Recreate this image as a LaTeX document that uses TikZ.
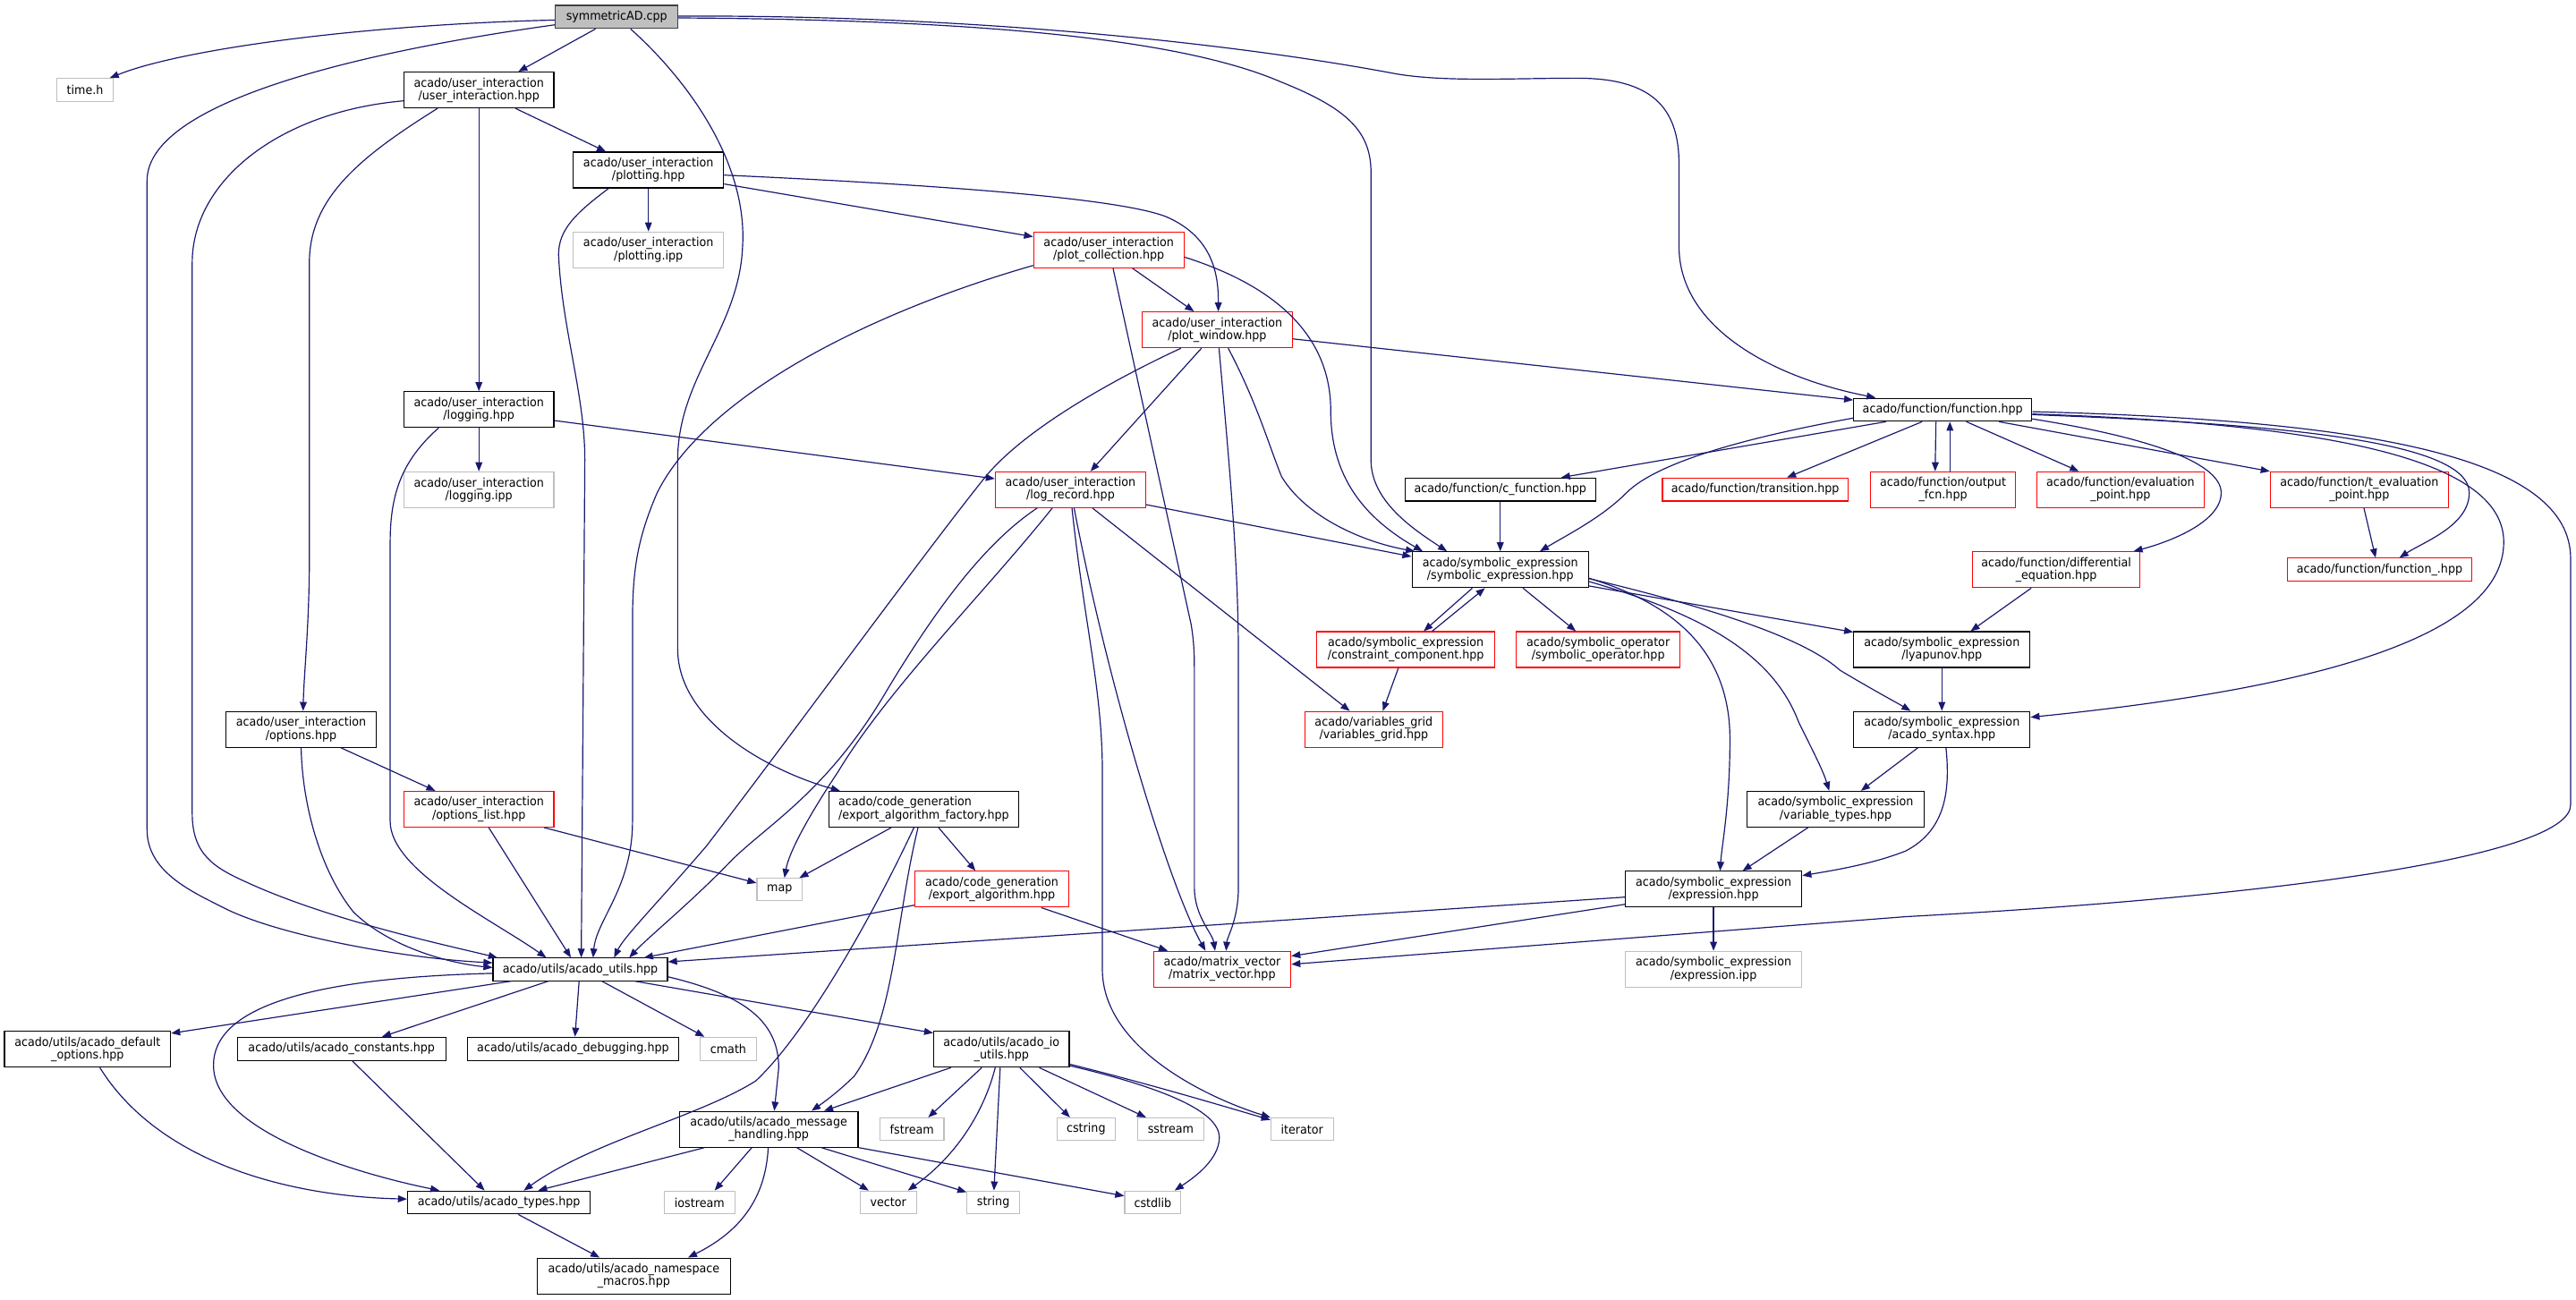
\documentclass[tikz,border=0pt]{standalone}
\usepackage{fontspec}
\newfontfamily\gfont[FakeStretch=0.935]{DejaVu Sans}
\usetikzlibrary{arrows.meta}
\definecolor{edgeblue}{HTML}{191970}
\definecolor{extgray}{HTML}{BFBFBF}
\definecolor{maingray}{HTML}{BFBFBF}
\definecolor{mainborder}{HTML}{404040}
\definecolor{incred}{HTML}{FF0000}
\tikzset{
  box/.style={rectangle, inner sep=0pt, align=center, line width=0.6pt, font=\gfont\fontsize{7.4}{7.7}\selectfont},
  doc/.style={box, draw=black},
  inc/.style={box, draw=incred},
  ext/.style={box, draw=extgray},
  mainn/.style={box, draw=mainborder, fill=maingray},
  sz/.style 2 args={minimum width=#1pt, minimum height=#2pt},
  arr/.style={draw=edgeblue, line width=0.65pt, -{Triangle[length=5.5pt,width=4.2pt]}},
}
\begin{document}
\begin{tikzpicture}[x=1pt,y=-1pt]
\useasboundingbox (0,0) rectangle (1568,791);
% ---------------- nodes ----------------
\node[mainn, sz={74.5}{14}] (S) at (375.4,10.3) {symmetricAD.cpp};
\node[ext, sz={34}{14}] (timeh) at (51.8,54.8) {time.h};
\node[doc, sz={91.3}{21.8}] (ui) at (291.5,54.8) {acado/user\_interaction\\/user\_interaction.hpp};
\node[doc, sz={91.6}{21.8}] (plotting) at (394.7,103.5) {acado/user\_interaction\\/plotting.hpp};
\node[ext, sz={91.6}{21.8}] (plottingipp) at (394.7,152.1) {acado/user\_interaction\\/plotting.ipp};
\node[doc, sz={91.3}{21.8}] (logging) at (291.5,249.3) {acado/user\_interaction\\/logging.hpp};
\node[ext, sz={91.3}{21.8}] (loggingipp) at (291.5,298.1) {acado/user\_interaction\\/logging.ipp};
\node[doc, sz={91.6}{21.8}] (options) at (183.3,444) {acado/user\_interaction\\/options.hpp};
\node[inc, sz={91.3}{21.8}] (optlist) at (291.5,492.6) {acado/user\_interaction\\/options\_list.hpp};
\node[inc, sz={91.5}{21.8}] (plotcoll) at (674.9,152.1) {acado/user\_interaction\\/plot\_collection.hpp};
\node[inc, sz={91.6}{21.8}] (plotwin) at (740.9,200.8) {acado/user\_interaction\\/plot\_window.hpp};
\node[doc, sz={108.4}{14}] (func) at (1182.5,249.4) {acado/function/function.hpp};
\node[inc, sz={91.5}{21.8}] (logrec) at (651.6,298.1) {acado/user\_interaction\\/log\_record.hpp};
\node[doc, sz={115.5}{21.8}, align=left] (eaf) at (562.3,492.6) {acado/code\_generation\\/export\_algorithm\_factory.hpp};
\node[inc, sz={93.8}{21.8}] (ea) at (603.7,541.3) {acado/code\_generation\\/export\_algorithm.hpp};
\node[doc, sz={116.2}{14}] (cfunc) at (913.2,298) {acado/function/c\_function.hpp};
\node[inc, sz={113}{14}] (trans) at (1068.4,298) {acado/function/transition.hpp};
\node[inc, sz={88.5}{21.8}] (outfcn) at (1182.7,298.1) {acado/function/output\\\_fcn.hpp};
\node[inc, sz={101.8}{21.8}] (evalpt) at (1290.7,298.1) {acado/function/evaluation\\\_point.hpp};
\node[inc, sz={108.4}{21.8}] (tevalpt) at (1436.1,298.1) {acado/function/t\_evaluation\\\_point.hpp};
\node[inc, sz={112.3}{14}] (funcu) at (1448.4,346.8) {acado/function/function\_.hpp};
\node[inc, sz={101.5}{21.8}] (diffeq) at (1251.6,346.8) {acado/function/differential\\\_equation.hpp};
\node[doc, sz={107.5}{21.8}] (symexp) at (913.2,346.8) {acado/symbolic\_expression\\/symbolic\_expression.hpp};
\node[inc, sz={108.2}{21.8}] (constr) at (855.7,395.4) {acado/symbolic\_expression\\/constraint\_component.hpp};
\node[inc, sz={99.8}{21.8}] (symop) at (972.8,395.4) {acado/symbolic\_operator\\/symbolic\_operator.hpp};
\node[doc, sz={107.3}{21.8}] (lyap) at (1182,395.4) {acado/symbolic\_expression\\/lyapunov.hpp};
\node[doc, sz={107.3}{21.8}] (syntax) at (1182,444) {acado/symbolic\_expression\\/acado\_syntax.hpp};
\node[inc, sz={83.6}{21.8}] (vargrid) at (836.2,444) {acado/variables\_grid\\/variables\_grid.hpp};
\node[doc, sz={107.5}{21.8}] (vartypes) at (1117.3,492.6) {acado/symbolic\_expression\\/variable\_types.hpp};
\node[doc, sz={107.5}{21.8}] (expr) at (1043,541.3) {acado/symbolic\_expression\\/expression.hpp};
\node[ext, sz={107.5}{21.8}] (expripp) at (1043,590) {acado/symbolic\_expression\\/expression.ipp};
\node[inc, sz={83.6}{21.8}] (matvec) at (743.9,590) {acado/matrix\_vector\\/matrix\_vector.hpp};
\node[ext, sz={38}{13.6}] (iterator) at (792.6,687.3) {iterator};
\node[doc, sz={106.2}{13.7}] (utils) at (353.2,590.1) {acado/utils/acado\_utils.hpp};
\node[doc, sz={101.1}{21.8}] (defopt) at (53.3,638.7) {acado/utils/acado\_default\\\_options.hpp};
\node[doc, sz={126.8}{14.2}] (const) at (207.9,638.5) {acado/utils/acado\_constants.hpp};
\node[doc, sz={128.4}{14.2}] (debug) at (348.8,638.5) {acado/utils/acado\_debugging.hpp};
\node[ext, sz={34}{14.2}] (cmath) at (443.3,638.5) {cmath};
\node[doc, sz={82.5}{21.8}] (ioutils) at (609.6,638.7) {acado/utils/acado\_io\\\_utils.hpp};
\node[doc, sz={111.3}{14}] (types) at (303.7,732) {acado/utils/acado\_types.hpp};
\node[doc, sz={117.5}{21.8}] (nsmacros) at (385.8,776.7) {acado/utils/acado\_namespace\\\_macros.hpp};
\node[doc, sz={108.8}{21.8}] (msghand) at (467.9,687.4) {acado/utils/acado\_message\\\_handling.hpp};
\node[ext, sz={27.5}{13.6}] (map) at (474.5,541.5) {map};
\node[ext, sz={39}{13.6}] (fstream) at (555.1,687.3) {fstream};
\node[ext, sz={35.5}{13.6}] (cstring) at (661.1,687.3) {cstring};
\node[ext, sz={40.4}{13.6}] (sstream) at (712.6,687.3) {sstream};
\node[ext, sz={43.1}{14}] (iostream) at (425.8,732) {iostream};
\node[ext, sz={34.3}{14}] (vector) at (540.7,732) {vector};
\node[ext, sz={32}{14}] (string) at (604.6,732) {string};
\node[ext, sz={34.2}{14}] (cstdlib) at (701.7,732) {cstdlib};
% ---------------- edges ----------------
% symmetricAD.cpp
\draw[arr] ([yshift=-1.9pt]S.west) .. controls (220,15) and (110,30) .. ([xshift=15pt]timeh.north);
\draw[arr] ([yshift=-4.8pt]S.west) .. controls (230,30) and (89.5,60) .. (89.5,110) -- (89.5,505) .. controls (89.5,530) and (115,542) .. (135,552) .. controls (165,568) and (240,583) .. ([yshift=4pt]utils.west);
\draw[arr] ([xshift=-12.9pt]S.south) -- ([xshift=24pt]ui.north);
\draw[arr] ([xshift=8.4pt]S.south) .. controls (420,50) and (455,100) .. (452,150) .. controls (450,200) and (412.5,230) .. (412.5,280) -- (412.5,395) .. controls (412.5,440) and (470,470) .. ([xshift=-51pt]eaf.north);
\draw[arr] ([yshift=-0.6pt]S.east) .. controls (600,12) and (720,24) .. (780,50) .. controls (820,66) and (834.5,80) .. (834.5,105) -- (834.5,280) .. controls (834.5,305) and (860,322) .. ([xshift=-32.4pt]symexp.north);
\draw[arr] ([yshift=0.5pt]S.east) .. controls (600,9) and (760,28) .. (850,45) .. controls (880,50) and (920,47.6) .. (960,47.6) .. controls (1005,47.6) and (1022,65) .. (1022,100) -- (1022,150) .. controls (1022,200) and (1080,230) .. ([xshift=-40.8pt]func.north);
% user_interaction
\draw[arr] ([xshift=22.3pt]ui.south) -- ([xshift=-25.9pt]plotting.north);
\draw[arr] (ui.south) -- (logging.north);
\draw[arr] ([xshift=-25.2pt]ui.south) .. controls (220,95) and (188.3,120) .. (188.3,160) -- (188.3,340) .. controls (188.3,380) and (185,410) .. ([xshift=1.2pt]options.north);
\draw[arr] ([yshift=-6.6pt]ui.west) .. controls (170,68) and (117,110) .. (117,160) -- (117,495) .. controls (117,520) and (130,528) .. (150,537) .. controls (200,560) and (270,575) .. ([xshift=3pt]utils.north west);
% plotting
\draw[arr] (plotting.south) -- (plottingipp.north);
\draw[arr] ([yshift=-8.5pt]plotting.east) -- ([yshift=8pt]plotcoll.west);
\draw[arr] ([yshift=-3.1pt]plotting.east) .. controls (560,112) and (680,120) .. (710,132) .. controls (740,145) and (741.6,170) .. ([xshift=0.7pt]plotwin.north);
\draw[arr] ([xshift=-24.2pt]plotting.south) .. controls (350,130) and (340,140) .. (340,155) .. controls (342,200) and (356,240) .. (356,280) -- ([xshift=0.6pt]utils.north);
% logging
\draw[arr] (logging.south) -- (loggingipp.north);
\draw[arr] ([yshift=-6.7pt]logging.east) -- ([yshift=6.7pt]logrec.west);
\draw[arr] ([xshift=-24.5pt]logging.south) .. controls (245,280) and (237.5,300) .. (237.5,330) -- (237.5,500) .. controls (237.5,530) and (300,560) .. ([xshift=-20.7pt]utils.north);
% options
\draw[arr] ([xshift=24.2pt]options.south) -- ([xshift=-26.5pt]optlist.north);
\draw[arr] (options.south) .. controls (184,490) and (195,530) .. (215,555) .. controls (235,575) and (270,586) .. ([yshift=1.1pt]utils.west);
\draw[arr] ([xshift=6pt]optlist.south) -- ([xshift=-5.7pt]utils.north);
\draw[arr] ([xshift=39.8pt]optlist.south) -- ([yshift=4pt]map.west);
% plot_collection
\draw[arr] ([xshift=14.4pt]plotcoll.south) -- ([xshift=-14.1pt]plotwin.north);
\draw[arr] ([yshift=-9.5pt]plotcoll.west) .. controls (530,190) and (430,240) .. (400,300) .. controls (387,330) and (385,350) .. (385,380) -- (385,500) .. controls (385,540) and (363,560) .. ([xshift=7.8pt]utils.north);
\draw[arr] ([xshift=2.6pt]plotcoll.south) -- (725,380) .. controls (727,392) and (727,400) .. (727,410) -- (727,540) .. controls (727,558) and (738,568) .. ([xshift=-4.3pt]matvec.north);
\draw[arr] ([yshift=-4.4pt]plotcoll.east) .. controls (770,172) and (810,200) .. (810,250) .. controls (810,290) and (830,315) .. ([xshift=-47.2pt]symexp.north);
% plot_window
\draw[arr] ([yshift=-5.5pt]plotwin.east) -- ([yshift=5.9pt]func.west);
\draw[arr] ([xshift=-9.6pt]plotwin.south) -- ([xshift=12.2pt]logrec.north);
\draw[arr] ([xshift=-22.1pt]plotwin.south) .. controls (680,230) and (625,260) .. (600,290) .. controls (560,340) and (480,450) .. (430,515) .. controls (400,550) and (380,570) .. ([xshift=20.6pt]utils.north);
\draw[arr] ([xshift=1.1pt]plotwin.south) .. controls (748,280) and (753.8,340) .. (753.8,400) -- (753.8,540) .. controls (753.8,560) and (747,570) .. ([xshift=2.4pt]matvec.north);
\draw[arr] ([xshift=6.7pt]plotwin.south) .. controls (765,245) and (772,270) .. (780,290) .. controls (795,315) and (830,330) .. ([xshift=2pt]symexp.north west);
% log_record
\draw[arr] ([yshift=-9.1pt]logrec.east) -- ([yshift=8pt]symexp.west);
\draw[arr] ([xshift=-20.3pt]logrec.south) .. controls (600,330) and (570,370) .. (540,420) .. controls (505,480) and (470,500) .. (446,523) .. controls (420,550) and (395,570) .. ([xshift=29.8pt]utils.north);
\draw[arr] ([xshift=-11.1pt]logrec.south) .. controls (600,360) and (540,420) .. (510,470) .. controls (490,500) and (480,520) .. ([xshift=3pt]map.north);
\draw[arr] ([xshift=13.4pt]logrec.south) -- ([xshift=-14.6pt]vargrid.north);
\draw[arr] ([xshift=2.2pt]logrec.south) .. controls (675,420) and (712,540) .. ([xshift=-10.1pt]matvec.north);
\draw[arr] ([xshift=0.9pt]logrec.south) .. controls (660,380) and (671,420) .. (671,470) -- (671,590) .. controls (671,640) and (740,670) .. (iterator.north west);
% export_algorithm_factory
\draw[arr] ([xshift=-19.8pt]eaf.south) -- ([xshift=-2pt]map.north east);
\draw[arr] ([xshift=-6pt]eaf.south) .. controls (530,560) and (490,630) .. (460,658) .. controls (425,680) and (360,695) .. ([xshift=15.1pt]types.north);
\draw[arr] ([xshift=-3.5pt]eaf.south) .. controls (545,560) and (545,620) .. (520,655) .. controls (510,665) and (500,672) .. ([xshift=26.1pt]msghand.north);
\draw[arr] ([xshift=9pt]eaf.south) -- ([xshift=-9.9pt]ea.north);
% export_algorithm
\draw[arr] ([yshift=-9.7pt]ea.west) -- ([xshift=38.8pt]utils.north);
\draw[arr] ([xshift=30.1pt]ea.south) -- ([xshift=9pt]matvec.north west);
% function
\draw[arr] ([xshift=-34.5pt]func.south) -- ([xshift=37pt]cfunc.north);
\draw[arr] ([yshift=-5.1pt]func.west) .. controls (1070,265) and (1010,280) .. (990,300) .. controls (975,315) and (955,325) .. ([xshift=24.1pt]symexp.north);
\draw[arr] ([xshift=-12.5pt]func.south) -- ([xshift=19.3pt]trans.north);
\draw[arr] ([xshift=-4.1pt]func.south) -- ([xshift=-4.8pt]outfcn.north);
\draw[arr] ([xshift=4.2pt]outfcn.north) -- ([xshift=4.4pt]func.south);
\draw[arr] ([xshift=14.4pt]func.south) -- ([xshift=-25.3pt]evalpt.north);
\draw[arr] ([xshift=34.2pt]func.south) -- (tevalpt.north west);
\draw[arr] ([yshift=-5.6pt]func.east) .. controls (1300,265) and (1352,280) .. (1352,300) .. controls (1352,318) and (1320,330) .. ([xshift=-4pt]diffeq.north east);
\draw[arr] ([yshift=-3pt]func.east) .. controls (1385,258) and (1503,268) .. (1503,300) .. controls (1503,320) and (1475,330) .. ([xshift=12.1pt]funcu.north);
\draw[arr] ([yshift=-2.6pt]func.east) .. controls (1420,258) and (1524,280) .. (1524,330) .. controls (1524,390) and (1400,420) .. ([yshift=7.4pt]syntax.east);
\draw[arr] ([yshift=-1.2pt]func.east) .. controls (1450,256) and (1564.7,280) .. (1564.7,340) -- (1564.7,490) .. controls (1564.7,520) and (1400,545) .. (1160,558) -- ([yshift=3pt]matvec.east);
\draw[arr] ([xshift=2.8pt]tevalpt.south) -- ([xshift=-2.4pt]funcu.north);
\draw[arr] ([xshift=-15.2pt]diffeq.south) -- ([xshift=17.5pt]lyap.north);
\draw[arr] (cfunc.south) -- (symexp.north);
% symbolic_expression
\draw[arr] ([xshift=-17pt]symexp.south) -- ([xshift=10.9pt]constr.north);
\draw[arr] ([xshift=16.1pt]constr.north) -- ([xshift=-9.3pt]symexp.south);
\draw[arr] ([xshift=13.8pt]symexp.south) -- ([xshift=-13.6pt]symop.north);
\draw[arr] ([yshift=-9.9pt]symexp.east) -- ([yshift=10.6pt]lyap.west);
\draw[arr] ([yshift=-5.4pt]symexp.east) .. controls (1050,372) and (1100,390) .. (1120,408) .. controls (1140,420) and (1155,428) .. ([xshift=-19pt]syntax.north);
\draw[arr] ([yshift=-7.2pt]symexp.east) .. controls (1040,375) and (1080,400) .. (1095,440) .. controls (1105,460) and (1110,470) .. ([xshift=-3.9pt]vartypes.north);
\draw[arr] ([yshift=-5.2pt]symexp.east) .. controls (1010,365) and (1053,390) .. (1053,450) .. controls (1053,490) and (1048,515) .. ([xshift=4pt]expr.north);
\draw[arr] ([xshift=-4.5pt]constr.south) -- ([xshift=5.5pt]vargrid.north);
\draw[arr] (lyap.south) -- (syntax.north);
\draw[arr] ([xshift=-14.6pt]syntax.south) -- ([xshift=15.4pt]vartypes.north);
\draw[arr] ([xshift=2.5pt]syntax.south) .. controls (1187,480) and (1185,505) .. (1160,518) .. controls (1140,526) and (1115,530) .. ([yshift=8.3pt]expr.east);
\draw[arr] ([xshift=-16.8pt]vartypes.south) -- ([xshift=17.7pt]expr.north);
\draw[arr] ([yshift=-4.8pt]expr.west) -- ([yshift=4.6pt]utils.east);
\draw[arr] ([yshift=-9.2pt]expr.west) -- ([yshift=8pt]matvec.east);
\draw[arr] (expr.south) -- (expripp.north);
% acado_utils
\draw[arr] ([xshift=-41.9pt]utils.south) -- ([yshift=-1.5pt]defopt.north east);
\draw[arr] ([yshift=-2.4pt]utils.west) .. controls (200,595) and (128,610) .. (130,650) .. controls (132,690) and (220,715) .. ([xshift=-36.2pt]types.north);
\draw[arr] ([xshift=-19.4pt]utils.south) -- ([xshift=24.6pt]const.north);
\draw[arr] ([xshift=-0.7pt]utils.south) -- ([xshift=1.2pt]debug.north);
\draw[arr] ([xshift=13.1pt]utils.south) -- ([xshift=-14.5pt]cmath.north);
\draw[arr] ([xshift=33.1pt]utils.south) -- ([yshift=-1.3pt]ioutils.north west);
\draw[arr] ([yshift=-4.5pt]utils.east) .. controls (450,605) and (474,620) .. (474,650) -- ([xshift=3.4pt]msghand.north);
\draw[arr] ([xshift=7.5pt]defopt.south) .. controls (95,705) and (170,728) .. ([yshift=2.1pt]types.west);
\draw[arr] ([xshift=6.6pt]const.south) -- ([xshift=-8.7pt]types.north);
% acado_io_utils
\draw[arr] ([xshift=-30.8pt]ioutils.south) -- ([xshift=-21pt]msghand.north east);
\draw[arr] ([xshift=-12pt]ioutils.south) -- ([xshift=9.9pt]fstream.north);
\draw[arr] ([xshift=-3.8pt]ioutils.south) .. controls (598,680) and (580,705) .. ([xshift=11.9pt]vector.north);
\draw[arr] ([xshift=-0.8pt]ioutils.south) -- ([xshift=0.4pt]string.north);
\draw[arr] ([xshift=11.2pt]ioutils.south) -- ([xshift=-9.8pt]cstring.north);
\draw[arr] ([xshift=23pt]ioutils.south) -- ([xshift=-15pt]sstream.north);
\draw[arr] ([yshift=-9.1pt]ioutils.east) .. controls (700,660) and (740,672) .. ([yshift=-1.5pt]iterator.north west);
\draw[arr] ([yshift=-10pt]ioutils.east) .. controls (720,665) and (745,680) .. (742,695) .. controls (740,708) and (725,718) .. ([xshift=13.3pt]cstdlib.north);
% acado_message_handling
\draw[arr] ([xshift=-39.1pt]msghand.south) -- ([xshift=23.8pt]types.north);
\draw[arr] ([xshift=-10.3pt]msghand.south) -- ([xshift=9.2pt]iostream.north);
\draw[arr] ([xshift=-0.3pt]msghand.south) .. controls (466,730) and (450,750) .. ([xshift=33pt]nsmacros.north);
\draw[arr] ([xshift=17.1pt]msghand.south) -- ([xshift=-11.9pt]vector.north);
\draw[arr] ([xshift=32.1pt]msghand.south) -- ([yshift=-1pt]string.north west);
\draw[arr] (msghand.south east) -- ([yshift=4pt]cstdlib.west);
% acado_types
\draw[arr] ([xshift=11.8pt]types.south) -- ([xshift=-20.8pt]nsmacros.north);
\end{tikzpicture}
\end{document}
